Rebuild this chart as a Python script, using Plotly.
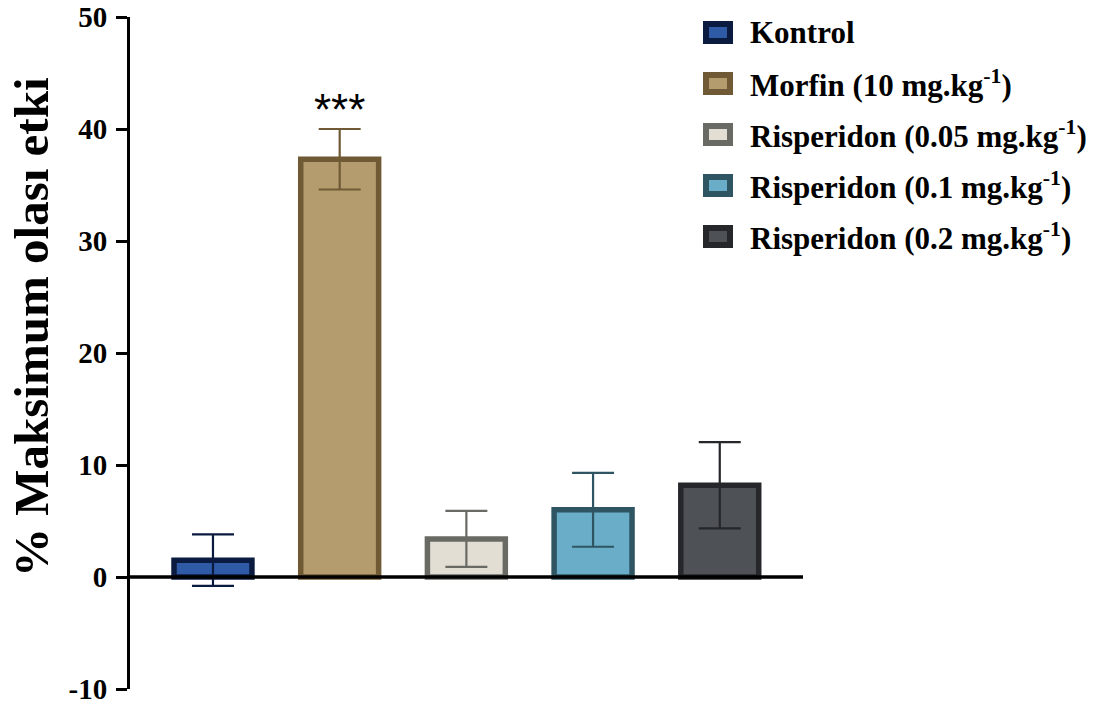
import plotly.graph_objects as go

# ---- data ----
categories = ["Kontrol", "Morfin", "Risperidon 0.05", "Risperidon 0.1", "Risperidon 0.2"]
legend_labels = [
    "Kontrol",
    "Morfin (10 mg.kg<sup>-1</sup>)",
    "Risperidon (0.05 mg.kg<sup>-1</sup>)",
    "Risperidon (0.1 mg.kg<sup>-1</sup>)",
    "Risperidon (0.2 mg.kg<sup>-1</sup>)",
]
means = [1.5, 37.3, 3.4, 6.0, 8.2]
errors = [2.3, 2.7, 2.5, 3.3, 3.85]
significance = ["", "***", "", "", ""]
y_ticks = [-10, 0, 10, 20, 30, 40, 50]

fill_colors = ["#2f5aa6", "#b59c6e", "#e2ded3", "#6aadc8", "#4e5257"]
line_colors = ["#0b1b40", "#6f5a35", "#6a6a65", "#2f5562", "#25272b"]

# ---- layout geometry (pixels) ----
W, H = 1103, 709
L, R = 130, 803
T, B = 17, 689


def px_x(p):
    return (p - L) / (R - L)


def px_y(p):
    return (B - p) / (B - T)


SERIF = "Liberation Serif, Times New Roman, serif"

fig = go.Figure()
for i, cat in enumerate(categories):
    fig.add_trace(go.Bar(
        x=[cat], y=[means[i]],
        width=0.615,
        marker=dict(color=fill_colors[i], line=dict(color=line_colors[i], width=5.5)),
        error_y=dict(type="data", array=[errors[i]], visible=True,
                     color=line_colors[i], thickness=2.2, width=21),
        showlegend=False,
        hoverinfo="skip",
    ))
    if significance[i]:
        fig.add_annotation(x=cat, y=means[i] + errors[i], yshift=-7,
                           text=significance[i], showarrow=False,
                           yanchor="bottom", xanchor="center",
                           font=dict(family="Liberation Sans, Arial", size=44, color="#000"))

# zero line drawn above bars
fig.add_shape(type="line", xref="x", yref="y", x0=-0.655, x1=4.657, y0=0, y1=0,
              line=dict(color="#000", width=3.5), layer="above")

# manual legend (swatches + labels)
row0, step = 32.5, 51
for i, lab in enumerate(legend_labels):
    cy = row0 + step * i
    fig.add_shape(type="rect", xref="paper", yref="paper",
                  x0=px_x(706), x1=px_x(730), y0=px_y(cy + 8.5), y1=px_y(cy - 8.5),
                  fillcolor=fill_colors[i], line=dict(color=line_colors[i], width=6))
    fig.add_annotation(xref="paper", yref="paper", x=px_x(748), y=px_y(cy),
                       text=lab, showarrow=False, xanchor="left", yanchor="middle",
                       font=dict(family=SERIF, size=31, color="#000", weight="bold"))

# y-axis title
fig.add_annotation(xref="paper", yref="paper", x=px_x(31), y=px_y(327),
                   text="% Maksimum olası etki", textangle=-90, showarrow=False,
                   xanchor="center", yanchor="middle",
                   font=dict(family=SERIF, size=49, color="#000", weight="bold"))

fig.update_layout(
    width=W, height=H,
    margin=dict(l=L, r=W - R, t=T, b=H - B, pad=0, autoexpand=False),
    paper_bgcolor="white", plot_bgcolor="white",
    barmode="overlay",
    xaxis=dict(type="category", categoryorder="array", categoryarray=categories,
               range=[-0.655, 4.657], showticklabels=False, showline=False,
               showgrid=False, zeroline=False, ticks="", automargin=False),
    yaxis=dict(range=[-10, 50], tickvals=y_ticks, ticktext=[str(v) for v in y_ticks],
               showline=True, linecolor="#000", linewidth=3, automargin=False,
               ticks="outside", ticklen=11, tickwidth=3, tickcolor="#000",
               showgrid=False, zeroline=False, ticklabelstandoff=3,
               tickfont=dict(family=SERIF, size=29, color="#000", weight="bold")),
)

fig.write_html("out.html", config={"displayModeBar": False},
               post_script="document.body.style.margin='0px';document.body.style.overflow='hidden';")
